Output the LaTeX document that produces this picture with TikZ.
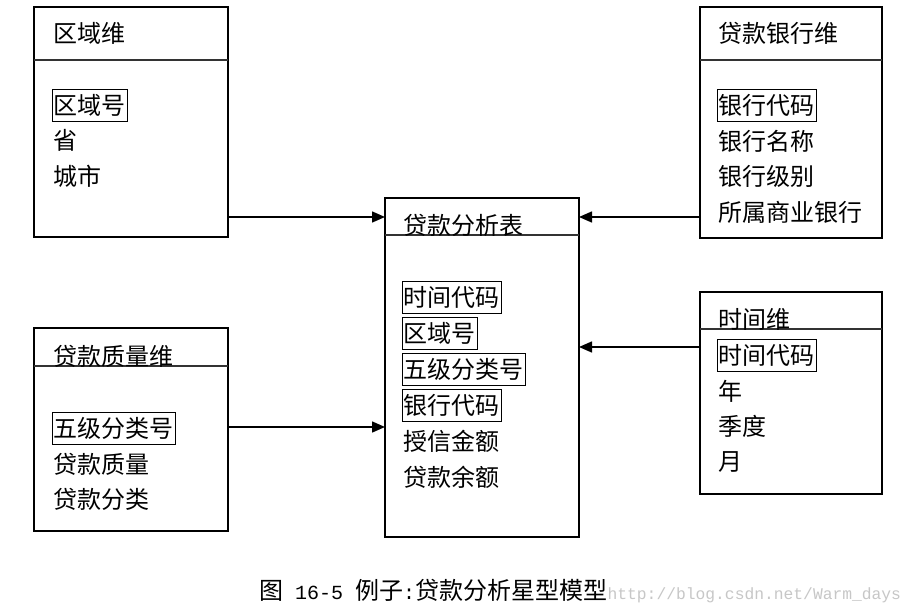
\documentclass[tikz,border=0pt]{standalone}
\usepackage{fontspec}
\newfontfamily\cjk{Noto Sans CJK SC}
\newfontfamily\wmfont{Liberation Mono}
\usetikzlibrary{positioning,arrows.meta}

\begin{document}
\begin{tikzpicture}[x=1pt,y=-1pt,
  node distance=3.2pt,
  tbl/.style={draw, line width=2pt, inner sep=0pt, outer sep=0pt, anchor=north west},
  attr/.style={font=\cjk\fontsize{24}{28}\selectfont, inner xsep=1.5pt, inner ysep=5pt, anchor=west},
  key/.style={attr, draw, line width=0.8pt},
  sep/.style={line width=1.2pt, draw=black!80},
  link/.style={-{Triangle[length=13pt,width=11pt]}, line width=1.5pt}]

  \useasboundingbox[fill=white] (0,0) rectangle (913,613);

  % 区域维
  \node[tbl, minimum width=194pt, minimum height=230pt] (quyu) at (34,7) {};
  \draw[sep] ([yshift=-53pt]quyu.north west) -- ([yshift=-53pt]quyu.north east);
  \node[attr] (quyu-t) at (51.5,33) {区域维};
  \node[key] (quyu-1) at (51.5,105) {区域号};
  \node[attr, below=of quyu-1.south west, anchor=north west] (quyu-2) {省};
  \node[attr, below=of quyu-2.south west, anchor=north west] (quyu-3) {城市};

  %%

  % 贷款银行维
  \node[tbl, minimum width=182pt, minimum height=231pt] (yinhang) at (700,7) {};
  \draw[sep] ([yshift=-53pt]yinhang.north west) -- ([yshift=-53pt]yinhang.north east);
  \node[attr] (yinhang-t) at (716.5,33) {贷款银行维};
  \node[key] (yinhang-1) at (717,105) {银行代码};
  \node[attr, below=of yinhang-1.south west, anchor=north west] (yinhang-2) {银行名称};
  \node[attr, below=of yinhang-2.south west, anchor=north west] (yinhang-3) {银行级别};
  \node[attr, below=of yinhang-3.south west, anchor=north west] (yinhang-4) {所属商业银行};

  %%

  % 贷款分析表
  \node[tbl, minimum width=194pt, minimum height=339pt] (fenxi) at (385,198) {};
  \draw[sep] ([yshift=-37pt]fenxi.north west) -- ([yshift=-37pt]fenxi.north east);
  \node[attr] (fenxi-t) at (401.5,225) {贷款分析表};
  \node[key] (fenxi-1) at (402,297) {时间代码};
  \node[key, below=of fenxi-1.south west, anchor=north west] (fenxi-2) {区域号};
  \node[key, below=of fenxi-2.south west, anchor=north west] (fenxi-3) {五级分类号};
  \node[key, below=of fenxi-3.south west, anchor=north west] (fenxi-4) {银行代码};
  \node[attr, below=of fenxi-4.south west, anchor=north west] (fenxi-5) {授信金额};
  \node[attr, below=of fenxi-5.south west, anchor=north west] (fenxi-6) {贷款余额};

  %%

  % 时间维
  \node[tbl, minimum width=182pt, minimum height=202pt] (shijian) at (700,292) {};
  \draw[sep] ([yshift=-37pt]shijian.north west) -- ([yshift=-37pt]shijian.north east);
  \node[attr] (shijian-t) at (716.5,319) {时间维};
  \node[key] (shijian-1) at (717,355) {时间代码};
  \node[attr, below=of shijian-1.south west, anchor=north west] (shijian-2) {年};
  \node[attr, below=of shijian-2.south west, anchor=north west] (shijian-3) {季度};
  \node[attr, below=of shijian-3.south west, anchor=north west] (shijian-4) {月};

  %%

  % 贷款质量维
  \node[tbl, minimum width=194pt, minimum height=203pt] (zhiliang) at (34,328) {};
  \draw[sep] ([yshift=-38pt]zhiliang.north west) -- ([yshift=-38pt]zhiliang.north east);
  \node[attr] (zhiliang-t) at (51.5,356) {贷款质量维};
  \node[key] (zhiliang-1) at (51.5,428) {五级分类号};
  \node[attr, below=of zhiliang-1.south west, anchor=north west] (zhiliang-2) {贷款质量};
  \node[attr, below=of zhiliang-2.south west, anchor=north west] (zhiliang-3) {贷款分类};

  %%

  \draw[link] ([yshift=20pt]quyu.south east) coordinate (a1) -- (a1 -| fenxi.west);
  \draw[link] ([yshift=21pt]yinhang.south west) coordinate (a2) -- (a2 -| fenxi.east);
  \draw[link] ([yshift=-55pt]shijian.north west) coordinate (a3) -- (a3 -| fenxi.east);
  \draw[link] ([yshift=-99pt]zhiliang.north east) coordinate (a4) -- (a4 -| fenxi.west);

  %%

  \node[font=\cjk\fontsize{24}{28}\selectfont, anchor=west, inner sep=0pt] (caption) at (259,590)
    {图{\wmfont\fontsize{20}{24}\selectfont\ 16-5\ }例子{\wmfont\fontsize{20}{24}\selectfont:}贷款分析星型模型};
  \node[font=\wmfont\fontsize{16.3}{20}\selectfont, text=black!22, inner sep=0pt,
        right=0pt of caption.base east, anchor=base west] (mark) {http://blog.csdn.net/Warm\_days};

\end{tikzpicture}
\end{document}
